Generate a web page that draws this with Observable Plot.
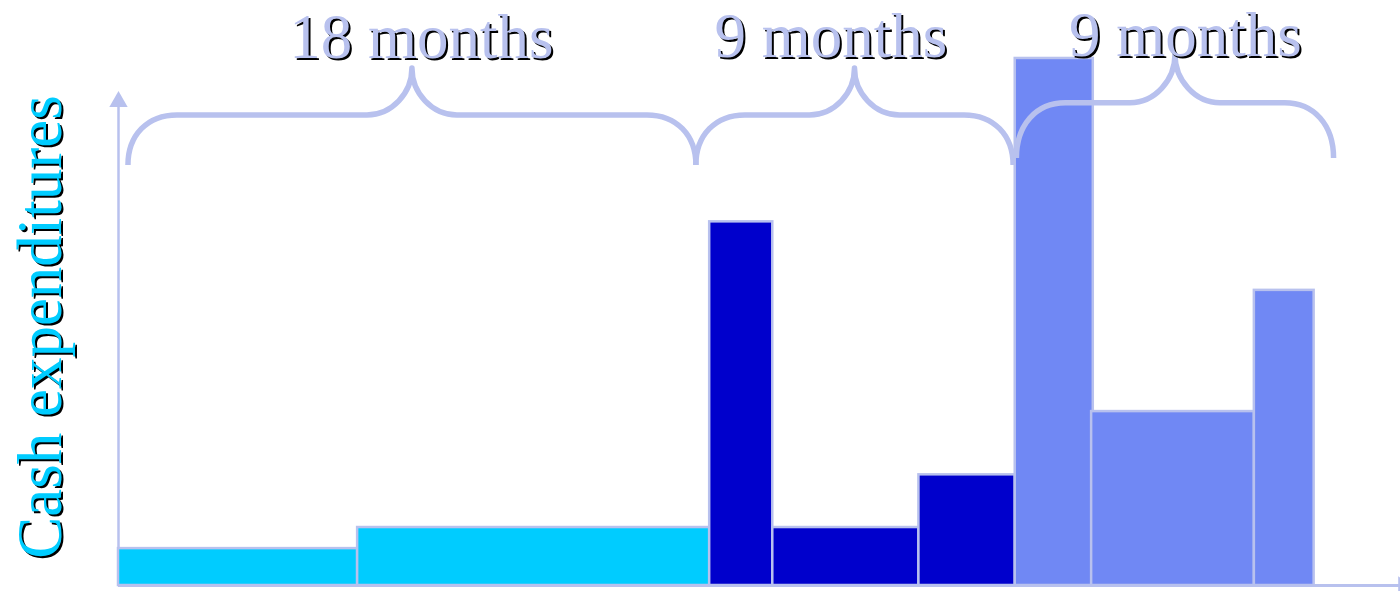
<!DOCTYPE html>
<html>
<head>
<meta charset="utf-8">
<script src="https://cdn.jsdelivr.net/npm/d3@7"></script>
<script src="https://cdn.jsdelivr.net/npm/@observablehq/plot@0.6"></script>
<style>
  html, body { margin: 0; padding: 0; background: #ffffff; }
  #chart svg { display: block; }
</style>
</head>
<body>
<div id="chart"></div>
<script>
// Project periods, in months from the start
const periodLabels = ["18 months", "9 months", "9 months"];
const periodStart  = [0.3, 17.4, 27.05];
const periodEnd    = [17.4, 26.95, 36.6];

// Spending blocks: start / end month, cash spent (relative), period index
const blockStart  = [0, 7.2, 17.8, 19.7, 24.1, 27.0, 29.3, 34.2];
const blockEnd    = [7.2, 17.8, 19.7, 24.1, 27.0, 29.35, 34.2, 36.0];
const blockCash   = [7, 11, 69, 11, 21, 100, 33, 56];
const blockPeriod = [0, 0, 1, 1, 1, 2, 2, 2];

const yTitle = "Cash expenditures";

const blocks = blockStart.map((s, i) => ({
  x1: s, x2: blockEnd[i], cash: blockCash[i], period: blockPeriod[i]
}));

const LAVENDER = "#b8c1ee";
const SERIF = "'Liberation Serif', 'Times New Roman', serif";

// Curly braces above each period, drawn in pixel space from the scales
function braceMark(index, scales) {
  const xs = scales.x, ys = scales.y;
  const rows = [
    {end: 79.7, level: 89.2, tip: 98.1},
    {end: 79.7, level: 89.2, tip: 98.1},
    {end: 81.0, level: 91.5, tip: 100.6}
  ];
  const g = d3.create("svg:g")
    .attr("fill", "none")
    .attr("stroke", LAVENDER)
    .attr("stroke-width", 5.5)
    .attr("stroke-linejoin", "round");
  periodStart.forEach((a, i) => {
    const x0 = xs(a), x1 = xs(periodEnd[i]), xm = (x0 + x1) / 2;
    const yE = ys(rows[i].end), yH = ys(rows[i].level), yT = ys(rows[i].tip);
    const r = 49, dv = yE - yH;
    const p = d3.path();
    p.moveTo(x0, yE);
    p.bezierCurveTo(x0, yE - 0.6 * dv, x0 + 0.4 * r, yH, x0 + r, yH);
    p.lineTo(xm - 45, yH);
    p.bezierCurveTo(xm - 20, yH, xm, yT + 25, xm, yT);
    p.bezierCurveTo(xm, yT + 25, xm + 20, yH, xm + 45, yH);
    p.lineTo(x1 - r, yH);
    p.bezierCurveTo(x1 - 0.4 * r, yH, x1, yE - 0.6 * dv, x1, yE);
    g.append("path").attr("d", p.toString());
  });
  return g.node();
}

// Period labels sit slightly off the brace tips
const labelShift = [9, -24, 10];
const labelMarks = [];
periodLabels.forEach((t, i) => {
  const mid = (periodStart[i] + periodEnd[i]) / 2;
  const base = {x: mid, text: t};
  const common = {
    x: "x", text: "text", frameAnchor: "top", lineAnchor: "bottom",
    fontSize: 63, fontFamily: SERIF, textAnchor: "middle"
  };
  labelMarks.push(Plot.text([base], {...common, fill: "#000000", dx: labelShift[i] + 2, dy: 59 - i}));
  labelMarks.push(Plot.text([base], {...common, fill: LAVENDER, dx: labelShift[i], dy: 57 - i}));
});

const yLabelCommon = {
  text: d => d, frameAnchor: "left", rotate: -90, lineAnchor: "bottom",
  textAnchor: "middle", fontSize: 63, fontFamily: SERIF
};

const chart = Plot.plot({
  width: 1400,
  height: 591,
  marginLeft: 118,
  marginRight: 0,
  marginTop: 0,
  marginBottom: 6,
  x: {domain: [0, 38.6], axis: null},
  y: {domain: [0, 111], axis: null},
  color: {type: "ordinal", domain: [0, 1, 2], range: ["#00ccff", "#0000cc", "#7088f4"]},
  style: {background: "#ffffff", overflow: "hidden"},
  marks: [
    // axes with arrowheads
    Plot.ruleX([0], {y1: 0, y2: 91, stroke: LAVENDER, strokeWidth: 2.5}),
    Plot.ruleY([0], {x1: 0, x2: 38.6, stroke: LAVENDER, strokeWidth: 3}),
    Plot.dot([{x: 0, y: 91.8}], {x: "x", y: "y", symbol: "triangle", r: 6.8, fill: LAVENDER, stroke: null}),
    Plot.dot([{x: 38.69, y: 0}], {x: "x", y: "y", symbol: "triangle", r: 6.8, rotate: 90, fill: LAVENDER, stroke: null}),
    // spending blocks
    Plot.rect(blocks, {x1: "x1", x2: "x2", y1: 0, y2: "cash", fill: "period", stroke: LAVENDER, strokeWidth: 2.5}),
    braceMark,
    ...labelMarks,
    Plot.text([yTitle], {...yLabelCommon, fill: "#000000", dx: -56, dy: 36}),
    Plot.text([yTitle], {...yLabelCommon, fill: "#00ccff", dx: -58, dy: 34})
  ]
});

document.getElementById("chart").appendChild(chart);
</script>
</body>
</html>
